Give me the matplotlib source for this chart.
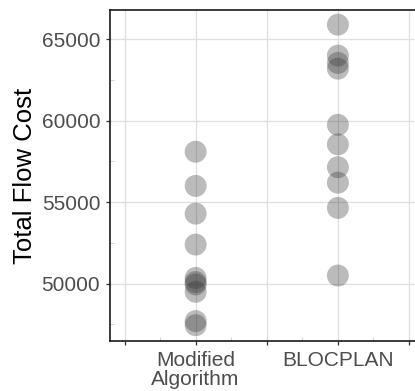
import numpy as np
import matplotlib
matplotlib.use("Agg")
import matplotlib.pyplot as plt

# data
kategorie = ["Modified\nAlgorithm", "BLOCPLAN"]
koszt_modified = [58100, 56000, 54300, 52400, 50350, 50100, 49950, 49500, 47700, 47450]
koszt_blocplan = [65900, 64000, 63550, 63200, 59750, 58550, 57150, 56200, 54650, 50500]
y_ticks = [50000, 55000, 60000, 65000]

plt.rcParams['font.family'] = ['Liberation Sans', 'DejaVu Sans']

fig = plt.figure(figsize=(4.15, 3.91), dpi=100)
ax = fig.add_axes([110/415, 50/391, 305/415, 331/391])

for i, wartosci in enumerate([koszt_modified, koszt_blocplan]):
    ax.scatter([i + 1] * len(wartosci), wartosci, s=250, color='#333333',
               alpha=0.33, edgecolors='none', zorder=3)

ax.set_xlim(0.398, 2.542)
ax.set_ylim(46480, 66800)

ax.set_xticks([0.5, 1, 1.5, 2, 2.5])
ax.set_xticklabels(['', kategorie[0], '', kategorie[1], ''], linespacing=1.0)
ax.set_xticks([0.75, 1.25, 1.75, 2.25], minor=True)
ax.set_yticks(y_ticks)
ax.set_yticks([47500, 52500, 57500, 62500], minor=True)

ax.grid(True, which='major', color='#dedede', linewidth=0.9, zorder=0)
ax.tick_params(which='major', direction='out', length=3, width=0.9,
               color='#333333', labelsize=15, labelcolor='#4d4d4d', pad=4)
ax.tick_params(which='minor', direction='in', length=3, width=0.6, color='#cccccc')

for s in ['left', 'bottom', 'top']:
    ax.spines[s].set_linewidth(1.2)
    ax.spines[s].set_color('#1a1a1a')
ax.spines['right'].set_visible(False)

ax.set_ylabel("Total Flow Cost", fontsize=18.5, color='black', labelpad=3)

fig.savefig("out.png", dpi=100)
